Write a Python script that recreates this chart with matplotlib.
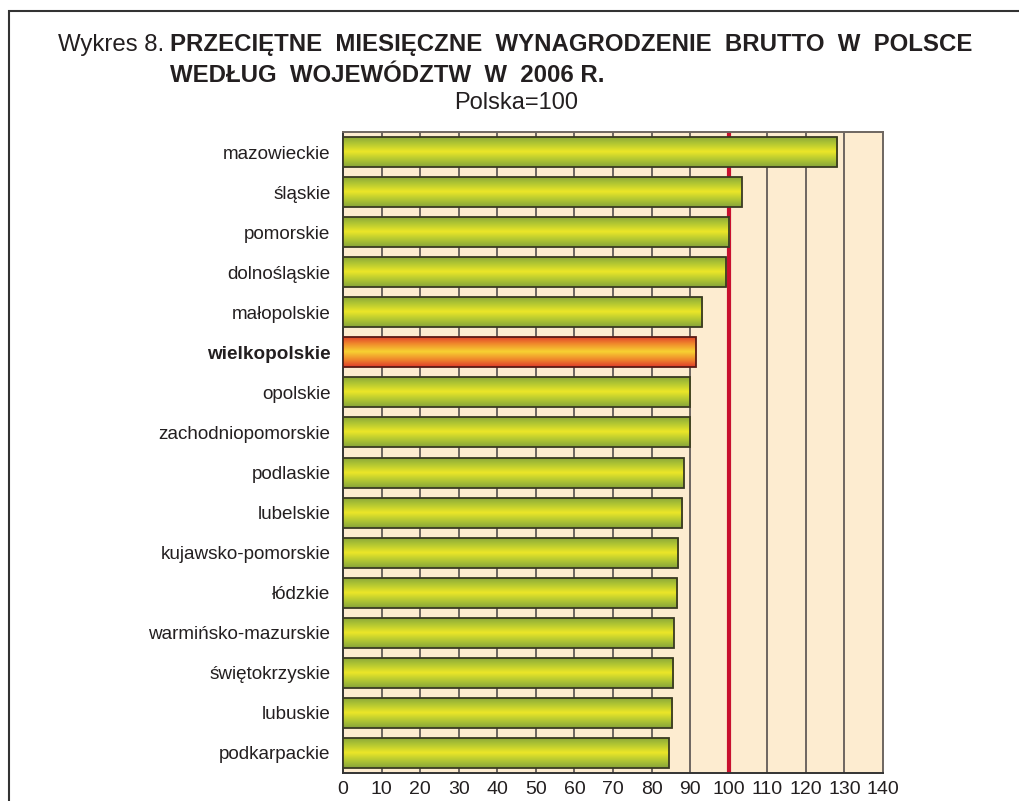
import numpy as np
import matplotlib
matplotlib.use("Agg")
import matplotlib.pyplot as plt
from matplotlib.colors import LinearSegmentedColormap

plt.rcParams["font.family"] = ["Liberation Sans", "DejaVu Sans"]

REGIONS = [
    "mazowieckie", "śląskie", "pomorskie", "dolnośląskie", "małopolskie",
    "wielkopolskie", "opolskie", "zachodniopomorskie", "podlaskie", "lubelskie",
    "kujawsko-pomorskie", "łódzkie", "warmińsko-mazurskie", "świętokrzyskie",
    "lubuskie", "podkarpackie",
]
VALUES = [128.1, 103.4, 100.1, 99.3, 93.1, 91.5, 90.0, 90.0, 88.4, 87.9,
          86.9, 86.6, 85.8, 85.6, 85.3, 84.5]
HIGHLIGHT = "wielkopolskie"
X_TICKS = list(range(0, 150, 10))

green_cmap = LinearSegmentedColormap.from_list(
    "green_bar", ["#86a43a", "#b4c832", "#ece628", "#b4c832", "#86a43a"])
red_cmap = LinearSegmentedColormap.from_list(
    "red_bar", ["#de3a2a", "#f08a2c", "#f8d232", "#f08a2c", "#de3a2a"])


def main():
    fig = plt.figure(figsize=(10.19, 8.01), dpi=100)
    W, H = 1019, 801

    # frame: only top and left are on the page
    frame = plt.Rectangle((9 / W, -0.05), 1.2, 1.05 - 11 / H,
                          transform=fig.transFigure, fill=False,
                          edgecolor="#333333", linewidth=1.5)
    fig.add_artist(frame)

    fig.text(58 / W, 1 - 45 / H, "Wykres 8.", fontsize=17.3, va="center",
             ha="left", color="#231f20")
    fig.text(170 / W, 1 - 45 / H,
             "PRZECIĘTNE  MIESIĘCZNE  WYNAGRODZENIE  BRUTTO  W  POLSCE",
             fontsize=17.3, fontweight="bold", va="center", ha="left",
             color="#231f20")
    fig.text(170 / W, 1 - 76 / H, "WEDŁUG  WOJEWÓDZTW  W  2006 R.",
             fontsize=17.3, fontweight="bold", va="center", ha="left",
             color="#231f20")
    fig.text(516 / W, 1 - 103 / H, "Polska=100", fontsize=17, va="center",
             ha="center", color="#231f20")

    ax = fig.add_axes([343 / W, 1 - 773 / H, 540 / W, 641 / H])
    ax.set_facecolor("#fdecd0")

    y = np.arange(len(REGIONS))

    for t in X_TICKS[1:-1]:
        ax.axvline(t, color="#6e6660", linewidth=1.4, zorder=1)
    ax.axvline(100, color="#c8102e", linewidth=3, zorder=2)

    bars = ax.barh(y, VALUES, height=0.75, facecolor="none",
                   edgecolor="#3a3a22", linewidth=1.3, zorder=4)
    grad = np.linspace(0, 1, 256).reshape(-1, 1)
    for bar, name in zip(bars, REGIONS):
        x0, y0 = bar.get_x(), bar.get_y()
        w, h = bar.get_width(), bar.get_height()
        cmap = red_cmap if name == HIGHLIGHT else green_cmap
        im = ax.imshow(grad, cmap=cmap, aspect="auto",
                       extent=[x0, x0 + w, y0 + h, y0], zorder=3,
                       interpolation="bilinear")
        im.set_clip_path(bar)
        if name == HIGHLIGHT:
            bar.set_edgecolor("#5a1a14")
    ax.set_xlim(0, 140)
    ax.set_ylim(len(REGIONS) - 0.5, -0.5)

    ax.set_yticks(y)
    ax.set_yticklabels(REGIONS, fontsize=13.6, color="#231f20")
    for lbl in ax.get_yticklabels():
        if lbl.get_text() == HIGHLIGHT:
            lbl.set_fontweight("bold")
    ax.set_xticks(X_TICKS)
    ax.set_xticklabels([str(t) for t in X_TICKS], fontsize=14,
                       color="#231f20")
    ax.tick_params(length=0)
    ax.tick_params(axis="y", pad=9)
    ax.tick_params(axis="x", pad=6)
    for s in ax.spines.values():
        s.set_color("#6e6660")
        s.set_linewidth(1.4)
    ax.spines["left"].set_color("#333333")
    ax.spines["bottom"].set_color("#333333")

    fig.savefig("out.png", dpi=100)


if __name__ == "__main__":
    main()
